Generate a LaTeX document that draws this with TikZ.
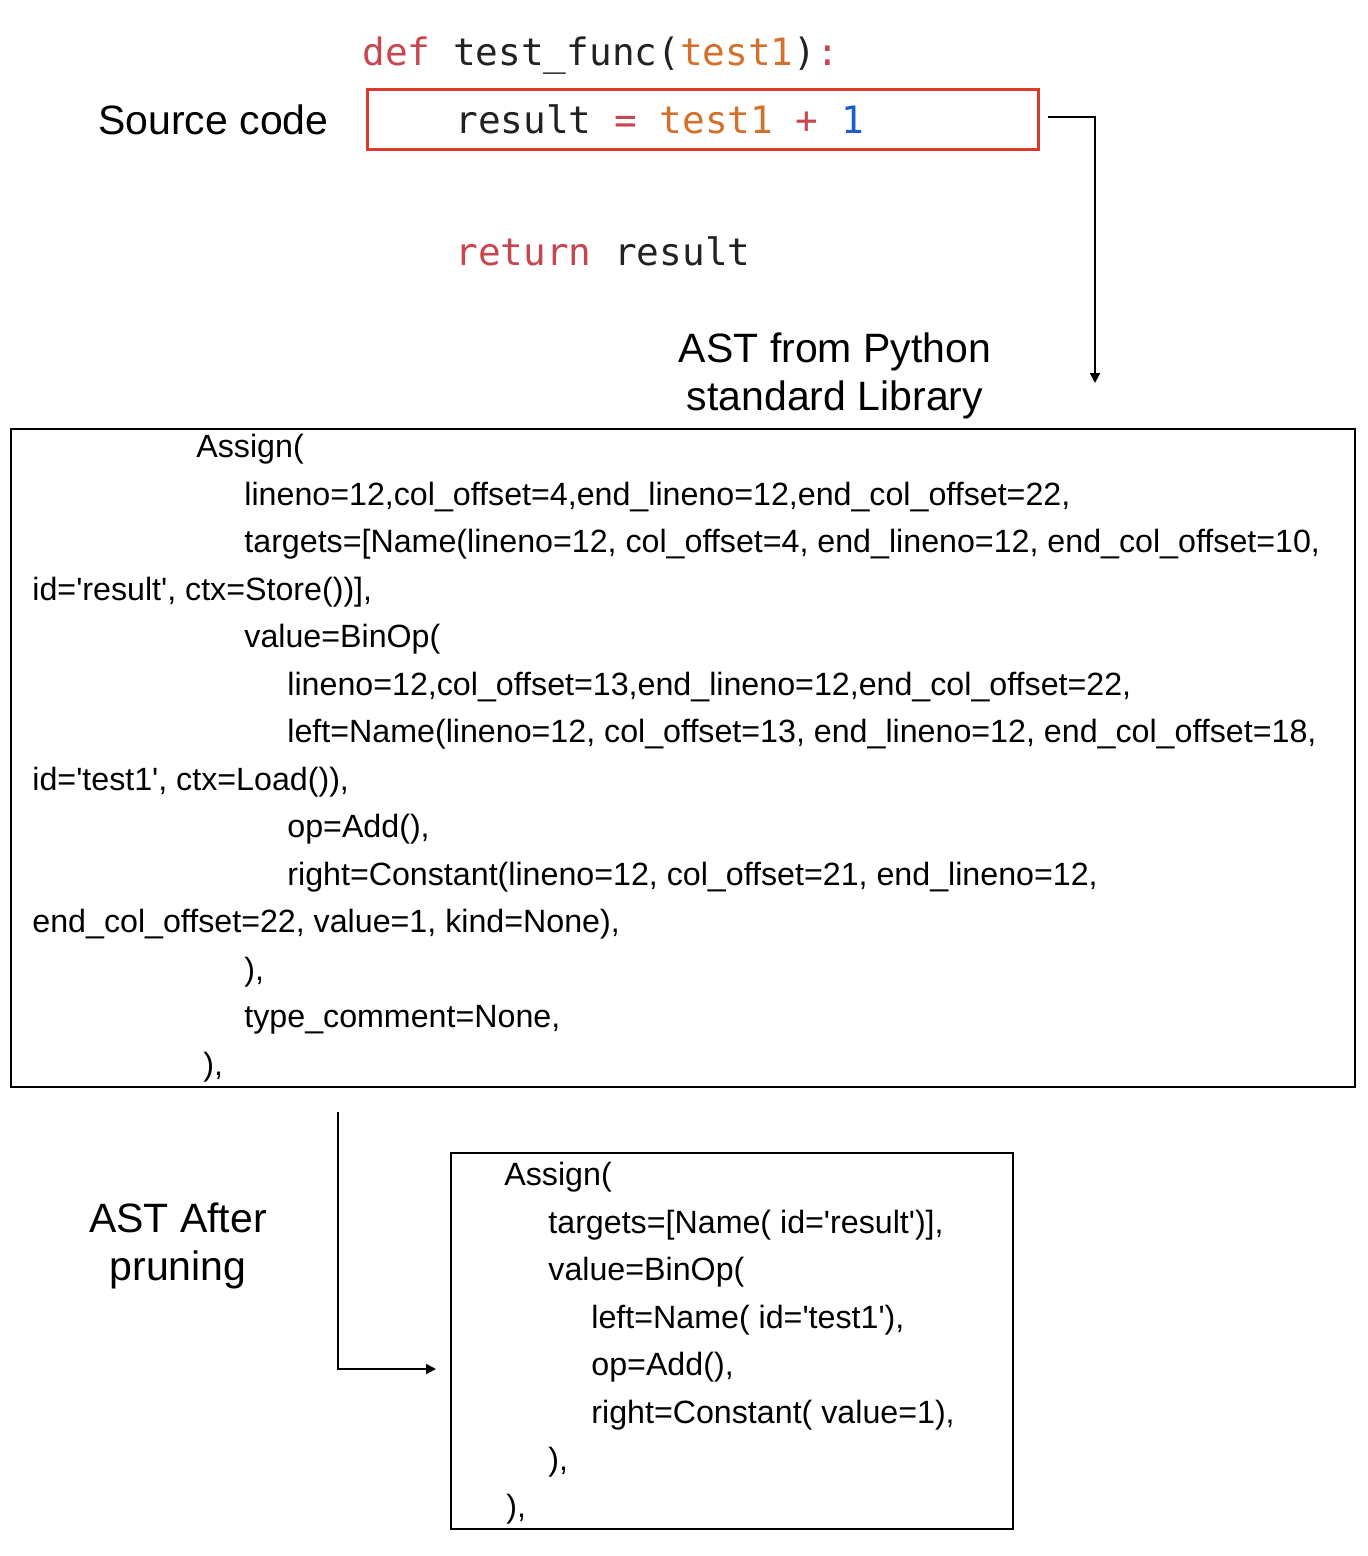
\documentclass[tikz,border=0pt]{standalone}
\usepackage{fontspec}
\setmainfont{Liberation Sans}
\newfontfamily\codefont{DejaVu Sans Mono}
\usetikzlibrary{arrows.meta}
\definecolor{kwred}{HTML}{C8464F}
\definecolor{argorange}{HTML}{D2702C}
\definecolor{numblue}{HTML}{1E5CC8}
\definecolor{codeblack}{HTML}{222222}
\definecolor{boxred}{HTML}{D93B2B}
\newcommand{\q}{\textquotesingle}
\begin{document}
\begin{tikzpicture}[x=0.5pt,y=-0.5pt,
  codetxt/.style={anchor=base west,inner sep=0,font=\codefont\fontsize{18.85}{20}\selectfont,text=codeblack},
  bigtitle/.style={font=\fontsize{20.5}{24}\selectfont,align=center,inner sep=0},
  asttxt/.style={anchor=base west,inner sep=0,font=\fontsize{16.1}{19}\selectfont},
  frame/.style={draw=black,line width=1pt,inner sep=0},
  conn/.style={line width=1pt,-{Triangle[length=5pt,width=5pt]}}]
\useasboundingbox (0,0) rectangle (1368,1556);

% source code
\node[codetxt] (c1) at (362,66) {\textcolor{kwred}{def} test\_func(\textcolor{argorange}{test1})\textcolor{kwred}{:}};
\node[draw=boxred,line width=1.5pt,inner sep=0,minimum width=335.5pt,minimum height=30pt] (codebox) at (702.5,120) {};
\node[codetxt] (c2) at (455,134) {result \textcolor{kwred}{=} \textcolor{argorange}{test1} \textcolor{kwred}{+} \textcolor{numblue}{1}};
\node[codetxt] (c3) at (455,266) {\textcolor{kwred}{return} result};
\node[bigtitle,anchor=base west] (srclabel) at (98,135) {Source code};

% AST label and arrow
\node[bigtitle,anchor=north] (astlabel) at (835,332) {AST from Python\\standard Library};
\coordinate (a1end) at (1095,383);
\draw[conn] ([xshift=4pt,yshift=1.5pt]codebox.east) -| (a1end);

% big AST box
\node[frame,minimum width=672pt,minimum height=329pt] (astbox) at (683,758) {};
\node[asttxt] (b1) at (196,457) {Assign(};
\node[asttxt] (b2) at (244,505) {lineno=12,col\_offset=4,end\_lineno=12,end\_col\_offset=22,};
\node[asttxt] (b3) at (244,552) {targets=[Name(lineno=12, col\_offset=4, end\_lineno=12, end\_col\_offset=10,};
\node[asttxt] (b4) at (32,600) {id=\q result\q, ctx=Store())],};
\node[asttxt] (b5) at (244,647) {value=BinOp(};
\node[asttxt] (b6) at (287,695) {lineno=12,col\_offset=13,end\_lineno=12,end\_col\_offset=22,};
\node[asttxt] (b7) at (287,742) {left=Name(lineno=12, col\_offset=13, end\_lineno=12, end\_col\_offset=18,};
\node[asttxt] (b8) at (32,790) {id=\q test1\q, ctx=Load()),};
\node[asttxt] (b9) at (287,837) {op=Add(),};
\node[asttxt] (b10) at (287,885) {right=Constant(lineno=12, col\_offset=21, end\_lineno=12,};
\node[asttxt] (b11) at (32,932) {end\_col\_offset=22, value=1, kind=None),};
\node[asttxt] (b12) at (244,980) {),};
\node[asttxt] (b13) at (244,1027) {type\_comment=None,};
\node[asttxt] (b14) at (203,1075) {),};

% pruned AST
\node[bigtitle,anchor=north] (prunelabel) at (178,1202) {AST After\\pruning};
\node[frame,minimum width=281pt,minimum height=188pt] (prunebox) at (732,1341) {};
\node[asttxt] (p1) at (504,1185) {Assign(};
\node[asttxt] (p2) at (548,1233) {targets=[Name( id=\q result\q)],};
\node[asttxt] (p3) at (548,1280) {value=BinOp(};
\node[asttxt] (p4) at (591,1328) {left=Name( id=\q test1\q),};
\node[asttxt] (p5) at (591,1375) {op=Add(),};
\node[asttxt] (p6) at (591,1423) {right=Constant( value=1),};
\node[asttxt] (p7) at (548,1470) {),};
\node[asttxt] (p8) at (506,1517) {),};

\coordinate (a2start) at (338,1112);
\draw[conn] (a2start) |- ([xshift=-7pt,yshift=-14pt]prunebox.west);
\end{tikzpicture}
\end{document}
